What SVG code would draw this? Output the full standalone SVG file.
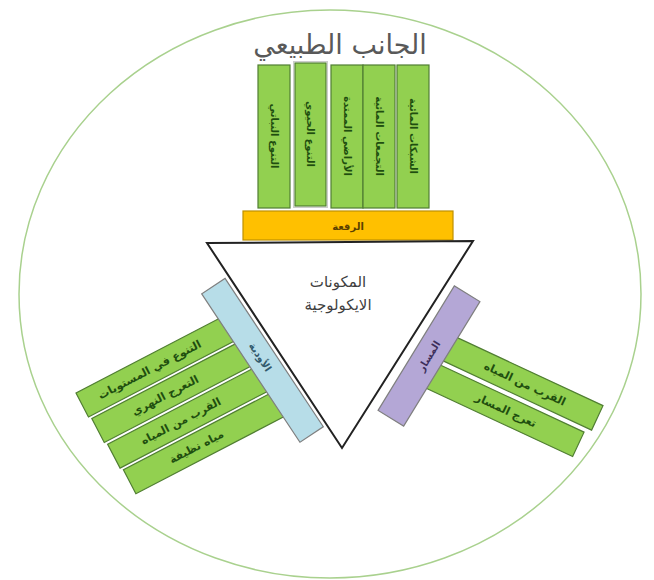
<svg xmlns="http://www.w3.org/2000/svg" width="654" height="580" viewBox="0 0 654 580">
<style>
.ar{font-family:"DejaVu Sans",sans-serif;text-anchor:middle;dominant-baseline:central}
.gbox{fill:#92d050;stroke:#507e32;stroke-width:1.2}
.gt{font-size:10px;font-weight:bold;fill:#1f4e0f}
.gt2{font-size:11px;font-weight:bold;fill:#1f4e0f}
</style>
<rect width="654" height="580" fill="#ffffff"/>
<ellipse cx="330" cy="294" rx="311" ry="284" fill="none" stroke="#a9d18e" stroke-width="1.5"/>
<g id="title"><text class="ar" x="340" y="44" font-size="27" fill="#595959">الجانب الطبيعي</text></g>
<g id="vertical-boxes">
<g id="v1"><rect class="gbox" x="258" y="65" width="32" height="143"/><text class="ar gt" transform="translate(274,136) rotate(90)">التنوع النباتي</text></g>
<g id="v2"><rect class="gbox" x="295" y="63" width="31" height="143" style="stroke:#507e32;outline:none"/><rect x="293.5" y="61.5" width="34" height="146" fill="none" stroke="#cccccc" stroke-width="1"/><text class="ar gt" transform="translate(310.5,134) rotate(90)">التنوع الحيوي</text></g>
<g id="v3"><rect class="gbox" x="331" y="65" width="32" height="143"/><text class="ar gt" transform="translate(347,136) rotate(90)">الأراضي الممتدة</text></g>
<g id="v4"><rect class="gbox" x="363" y="65" width="32" height="143"/><text class="ar gt" transform="translate(379,136) rotate(90)">التجمعات المائية</text></g>
<g id="v5"><rect class="gbox" x="397" y="65" width="32" height="143"/><text class="ar gt" transform="translate(413,136) rotate(90)">الشبكات المائية</text></g>
</g>
<g id="patch"><rect x="243" y="211" width="210" height="29" fill="#ffc000" stroke="#bf9000" stroke-width="1.2"/><text class="ar" x="348" y="226" font-size="10" font-weight="bold" fill="#5a4000">الرقعة</text></g>
<g id="left-boxes" transform="translate(76,393) rotate(-27.5)">
<g id="l1"><rect class="gbox" x="0" y="0" width="170" height="27"/><text class="ar gt2" x="76" y="13.5">التنوع في المستويات</text></g>
<g id="l2"><rect class="gbox" x="2.2" y="30" width="170" height="27"/><text class="ar gt2" x="78" y="43.5">التعرج النهري</text></g>
<g id="l3"><rect class="gbox" x="4.4" y="60" width="170" height="27"/><text class="ar gt2" x="80" y="73.5">القرب من المياه</text></g>
<g id="l4"><rect class="gbox" x="6.6" y="90" width="170" height="27"/><text class="ar gt2" x="82" y="103.5">مياه نظيفة</text></g>
</g>
<g id="right-boxes" transform="translate(458,338) rotate(25)">
<g id="r1"><rect class="gbox" x="-15" y="0" width="175" height="27"/><text class="ar gt2" x="80" y="13.5">القرب من المياه</text></g>
<g id="r2"><rect class="gbox" x="-20" y="32" width="174" height="27"/><text class="ar gt2" x="74" y="45.5">تعرج المسار</text></g>
</g>
<g id="valleys" transform="translate(262.5,360.3) rotate(56.5)"><rect x="-89" y="-14" width="178" height="28" fill="#b7dde8" stroke="#7f7f7f" stroke-width="1.2"/><text class="ar" x="-4" y="0" font-size="10" font-weight="bold" fill="#31596b">الأودية</text></g>
<g id="path" transform="translate(429,356) rotate(-58.5)"><rect x="-73" y="-15" width="146" height="30" fill="#b4a7d6" stroke="#7f7f7f" stroke-width="1.2"/><text class="ar" x="0" y="0" font-size="10" font-weight="bold" fill="#3d2f5c">المسار</text></g>
<g id="eco"><polygon points="207,243 473,241 342,448" fill="#ffffff" stroke="#222222" stroke-width="2"/><text class="ar" x="338" y="282" font-size="15" fill="#404040">المكونات</text><text class="ar" x="338" y="305" font-size="15" fill="#404040">الايكولوجية</text></g>
</svg>
